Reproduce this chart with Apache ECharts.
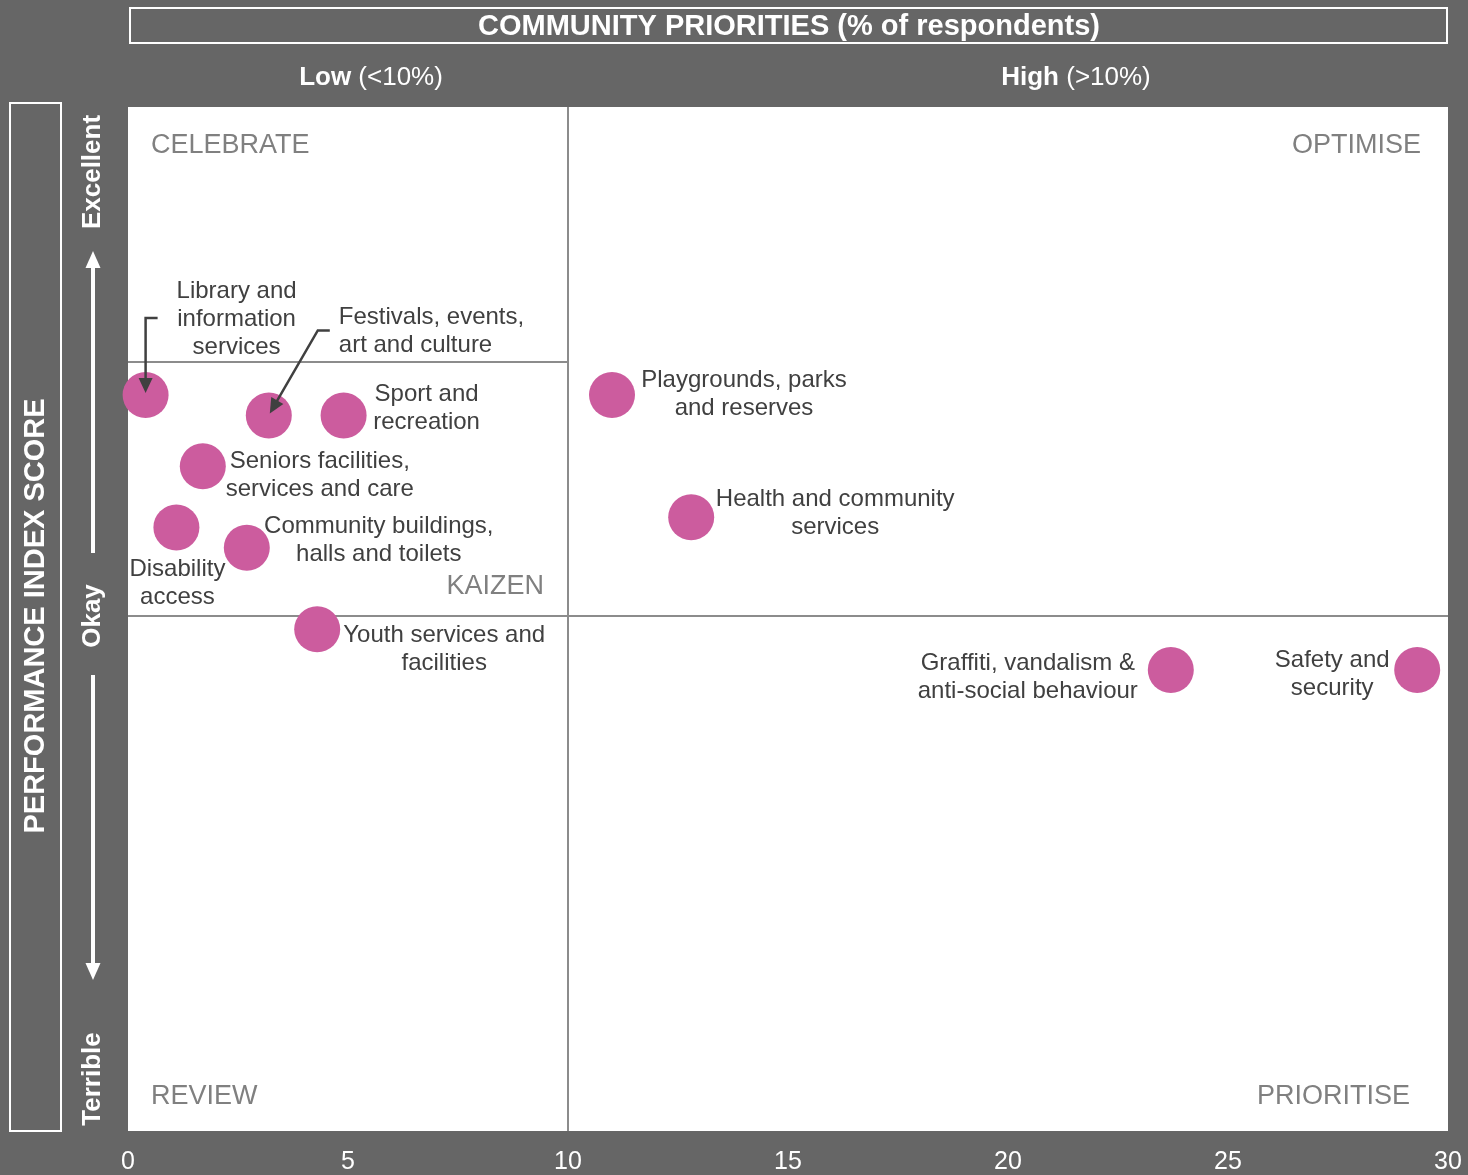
<!DOCTYPE html>
<html><head><meta charset="utf-8">
<script src="https://cdn.jsdelivr.net/npm/echarts/dist/echarts.min.js"></script>
<style>html,body{margin:0;padding:0;background:#666666;}#c{width:1468px;height:1175px;}</style>
</head><body><div id="c"></div>
<script>
// ---- DATA ----
const services = [
  'Library and\ninformation\nservices',
  'Festivals, events,\nart and culture',
  'Sport and\nrecreation',
  'Seniors facilities,\nservices and care',
  'Disability\naccess',
  'Community buildings,\nhalls and toilets',
  'Youth services and\nfacilities',
  'Playgrounds, parks\nand reserves',
  'Health and community\nservices',
  'Graffiti, vandalism &\nanti-social behaviour',
  'Safety and\nsecurity'
];
const priorityPct = [0.4, 3.2, 4.9, 1.7, 1.1, 2.7, 4.3, 11.0, 12.8, 23.7, 29.3];
const performanceScore = [71.7, 69.7, 69.7, 64.7, 58.7, 56.7, 48.7, 71.7, 59.7, 44.7, 44.7];
const xTicks = [0, 5, 10, 15, 20, 25, 30];
const priorityThreshold = 10;
const okayScore = 50;
const celebrateScore = 75;
const quadrantNames = ['CELEBRATE', 'OPTIMISE', 'KAIZEN', 'REVIEW', 'PRIORITISE'];

// ---- STYLE (label placement, pixel offsets) ----
const labelStyles = [
  {offset: [91, -76]},
  {offset: [70, -84], align: 'left'},
  {offset: [83, -7]},
  {offset: [117, 9]},
  {offset: [1, 56]},
  {offset: [132, -7]},
  {offset: [127, 20]},
  {offset: [132, -1]},
  {offset: [144, -4]},
  {offset: [-143, 7]},
  {offset: [-85, 4]}
];
// leader arrows: pixel offsets from point centre, last = tip
const leaders = {
  0: [[12, -77], [0, -77], [0, -2]],
  1: [[61, -85], [49, -85], [1, -2]]
};

const FAM = 'Liberation Sans';
const chart = echarts.init(document.getElementById('c'));

const option = {
  backgroundColor: '#666666',
  animation: false,
  grid: {left: 128, right: 20, top: 107, bottom: 44, show: true, backgroundColor: '#ffffff', borderWidth: 0},
  xAxis: {
    type: 'value', min: xTicks[0], max: xTicks[xTicks.length - 1], interval: 5,
    axisLine: {show: false}, axisTick: {show: false}, splitLine: {show: false},
    axisLabel: {color: '#ffffff', fontSize: 25, fontFamily: FAM, margin: 19}
  },
  yAxis: {type: 'value', min: -0.6, max: 100, show: false, splitLine: {show: false}},
  series: [{
    type: 'scatter',
    z: 3,
    symbolSize: 46,
    itemStyle: {color: '#cc5c9e', opacity: 1},
    emphasis: {disabled: true},
    label: {
      show: true, position: 'inside', formatter: p => p.name,
      color: '#404040', fontSize: 24, lineHeight: 28, fontFamily: FAM,
      align: 'center', verticalAlign: 'middle'
    },
    data: priorityPct.map((x, i) => ({
      name: services[i],
      value: [x, performanceScore[i]],
      label: labelStyles[i]
    })),
    markLine: {
      z: 1, silent: true, symbol: 'none', label: {show: false},
      lineStyle: {color: '#8c8c8c', width: 2, type: 'solid'},
      emphasis: {disabled: true},
      data: [
        {yAxis: okayScore},
        {xAxis: priorityThreshold},
        [{coord: [0, celebrateScore]}, {coord: [priorityThreshold, celebrateScore]}]
      ]
    }
  }]
};
chart.setOption(option);

// ---- annotations ----
const g = [];
function txt(x, y, text, opt) {
  g.push(Object.assign({type: 'text', x: x, y: y, z: 10, silent: true,
    style: Object.assign({text: text, fill: '#ffffff', fontSize: 26, fontFamily: FAM, align: 'center', verticalAlign: 'middle'}, opt.style || {})},
    opt.el || {}));
}
// title box
g.push({type: 'rect', z: 10, silent: true, shape: {x: 130, y: 8, width: 1317, height: 35}, style: {fill: 'none', stroke: '#ffffff', lineWidth: 2}});
txt(789, 27, 'COMMUNITY PRIORITIES (% of respondents)', {style: {fontSize: 29, fontWeight: 'bold'}});
const boldRich = {b: {fontWeight: 'bold', fill: '#ffffff', fontSize: 26, fontFamily: FAM}, n: {fill: '#ffffff', fontSize: 26, fontFamily: FAM}};
txt(371, 78, '{b|Low}{n| (<10%)}', {style: {rich: boldRich}});
txt(1076, 78, '{b|High}{n| (>10%)}', {style: {rich: boldRich}});
// left box
g.push({type: 'rect', z: 10, silent: true, shape: {x: 10, y: 103, width: 51, height: 1028}, style: {fill: 'none', stroke: '#ffffff', lineWidth: 2}});
txt(36, 616, 'PERFORMANCE INDEX SCORE', {style: {fontSize: 29, fontWeight: 'bold'}, el: {rotation: Math.PI / 2}});
txt(93, 172, 'Excellent', {style: {fontWeight: 'bold'}, el: {rotation: Math.PI / 2}});
txt(93, 616, 'Okay', {style: {fontWeight: 'bold'}, el: {rotation: Math.PI / 2}});
txt(93, 1079, 'Terrible', {style: {fontWeight: 'bold'}, el: {rotation: Math.PI / 2}});
// white arrows
g.push({type: 'line', z: 10, silent: true, shape: {x1: 93, y1: 553, x2: 93, y2: 264}, style: {stroke: '#ffffff', lineWidth: 4}});
g.push({type: 'polygon', z: 10, silent: true, shape: {points: [[93, 251], [85.5, 268], [100.5, 268]]}, style: {fill: '#ffffff'}});
g.push({type: 'line', z: 10, silent: true, shape: {x1: 93, y1: 675, x2: 93, y2: 967}, style: {stroke: '#ffffff', lineWidth: 4}});
g.push({type: 'polygon', z: 10, silent: true, shape: {points: [[93, 980], [85.5, 963], [100.5, 963]]}, style: {fill: '#ffffff'}});
// quadrant labels
const qc = '#808080';
txt(151, 146, quadrantNames[0], {style: {fill: qc, align: 'left', fontSize: 27}});
txt(1421, 146, quadrantNames[1], {style: {fill: qc, align: 'right', fontSize: 27}});
txt(544, 587, quadrantNames[2], {style: {fill: qc, align: 'right', fontSize: 27}});
txt(151, 1097, quadrantNames[3], {style: {fill: qc, align: 'left', fontSize: 27}});
txt(1410, 1097, quadrantNames[4], {style: {fill: qc, align: 'right', fontSize: 27}});
// leader arrows from data points
Object.keys(leaders).forEach(k => {
  const i = +k;
  const c = chart.convertToPixel({gridIndex: 0}, [priorityPct[i], performanceScore[i]]);
  const pts = leaders[k].map(o => [c[0] + o[0], c[1] + o[1]]);
  const tip = pts[pts.length - 1], prev = pts[pts.length - 2];
  const dx = tip[0] - prev[0], dy = tip[1] - prev[1];
  const L = Math.sqrt(dx * dx + dy * dy), ux = dx / L, uy = dy / L;
  const hl = 15, hw = 7;
  const base = [tip[0] - ux * hl, tip[1] - uy * hl];
  const shaft = pts.slice(0, -1).concat([[tip[0] - ux * (hl - 2), tip[1] - uy * (hl - 2)]]);
  g.push({type: 'polyline', z: 10, silent: true, shape: {points: shaft}, style: {stroke: '#404040', lineWidth: 2.5, fill: 'none'}});
  g.push({type: 'polygon', z: 10, silent: true, shape: {points: [tip, [base[0] - uy * hw, base[1] + ux * hw], [base[0] + uy * hw, base[1] - ux * hw]]}, style: {fill: '#404040'}});
});
chart.setOption({graphic: g});
</script></body></html>
